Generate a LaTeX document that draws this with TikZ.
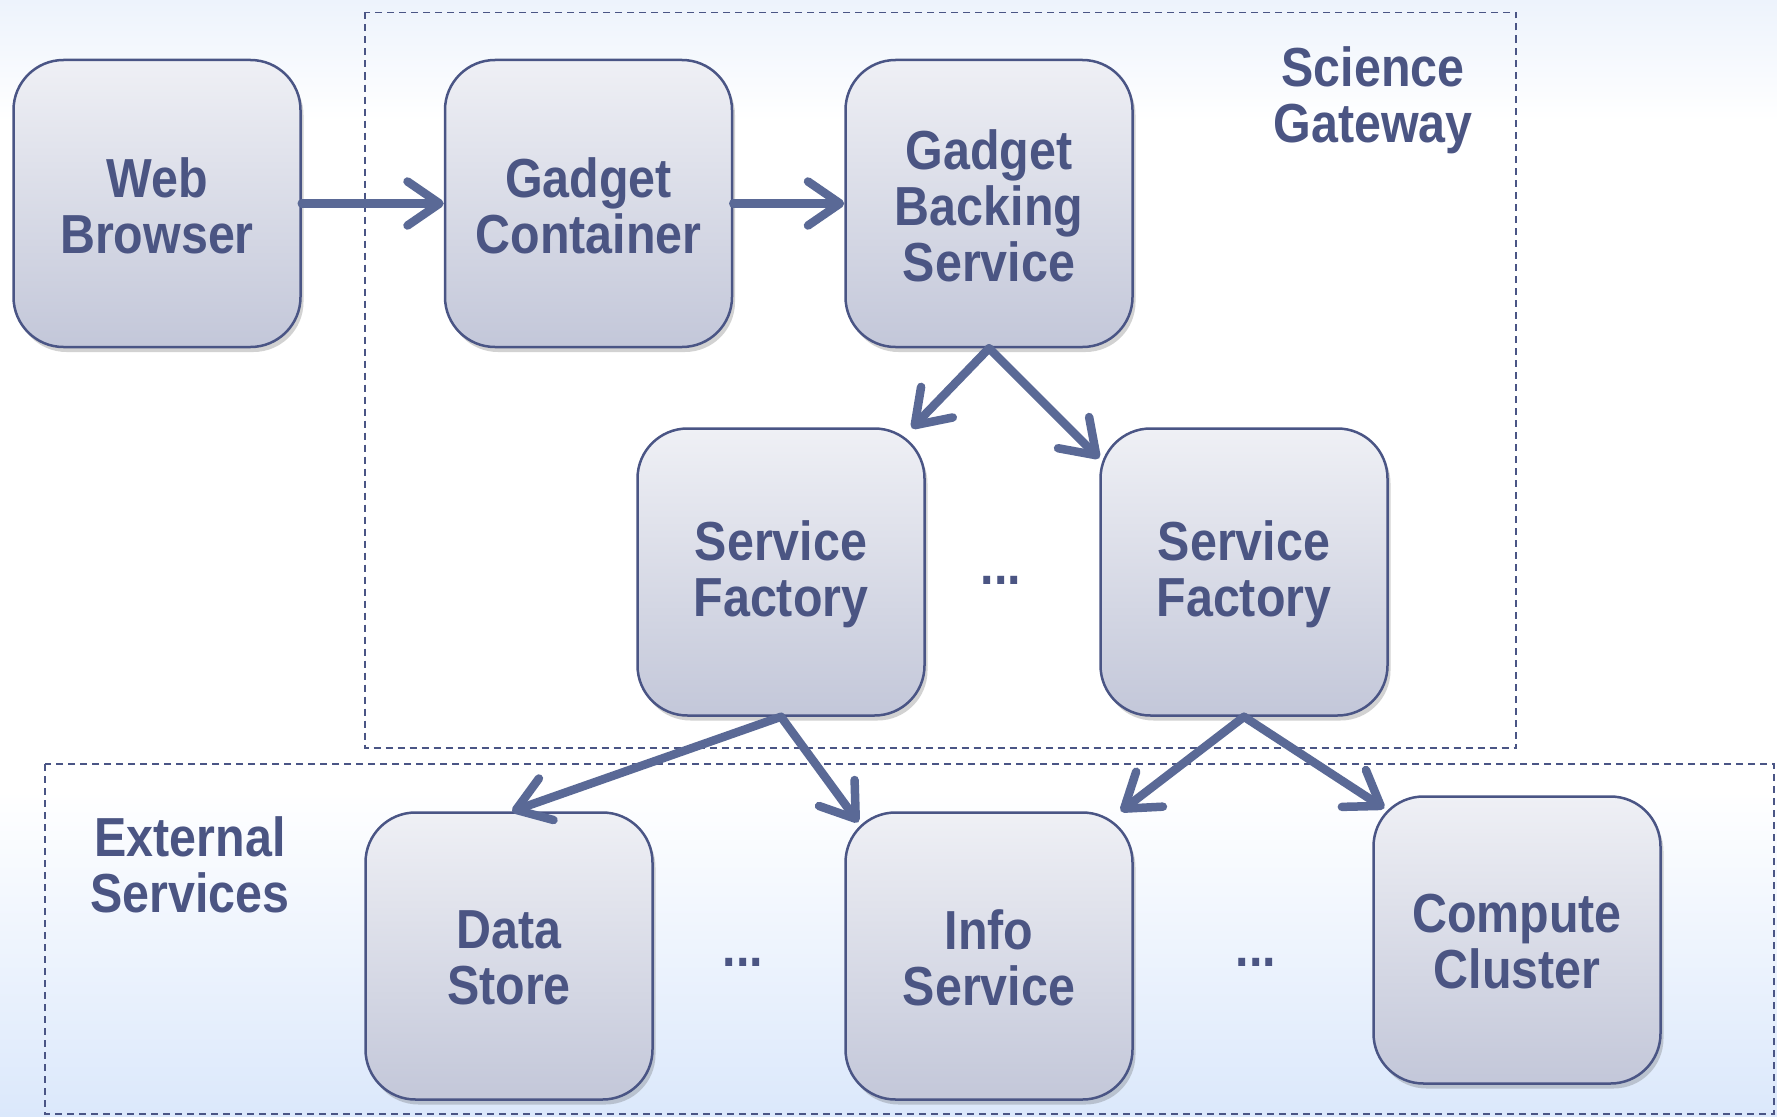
\documentclass[tikz,border=0pt]{standalone}
\usepackage{fontspec}
\newfontfamily\lblfont{Liberation Sans}[FakeStretch=0.88]
\usetikzlibrary{arrows.meta,shadows}
\definecolor{txt}{RGB}{75,85,131}
\definecolor{edge}{RGB}{74,85,133}
\definecolor{arr}{RGB}{90,105,150}
\definecolor{boxtop}{RGB}{239,240,245}
\definecolor{boxbot}{RGB}{195,199,217}
\definecolor{bgblue}{RGB}{219,232,251}
\definecolor{bgtop}{RGB}{237,243,252}
\tikzset{
  lbl/.style={font=\lblfont\bfseries\fontsize{55}{56}\selectfont, text=txt, align=center},
  inlbl/.style={lbl, yshift=-2pt},
  compbox/.style={draw=edge, line width=2.5pt, rounded corners=50pt,
    minimum width=287pt, minimum height=287pt, top color=boxtop, bottom color=boxbot,
    drop shadow={shadow xshift=3pt, shadow yshift=-5pt, opacity=0.25, fill=black!70}},
  grp/.style={draw=edge, line width=1.6pt, dash pattern=on 7pt off 5pt},
  conn/.style={draw=arr, line width=8.5pt, line cap=round,
    -{Straight Barb[length=32pt,width=44pt,round]}},
}
\begin{document}
\begin{tikzpicture}[x=1pt,y=-1pt]
\useasboundingbox (0,0) rectangle (1777,1116);
% background
\fill[white] (0,0) rectangle (1777,1116);
\shade[top color=bgtop, bottom color=white] (0,0) rectangle (1777,122);
\shade[top color=white, bottom color=bgblue] (0,790) rectangle (1777,1116);
% groups
\draw[grp] (365,12.5) rectangle (1516,748);
\draw[grp] (45,764) rectangle (1774,1114);
\node[lbl] (sglabel) at (1373,100) {Science\\Gateway};
\node[lbl] (eslabel) at (190,865) {External\\Services};
% boxes
\node[compbox, label={[inlbl]center:{Web\\Browser}}] (wb) at (157,203.5) {};
\node[compbox, label={[inlbl]center:{Gadget\\Container}}] (gc) at (588.5,203.5) {};
\node[compbox, label={[inlbl]center:{Gadget\\Backing\\Service}}] (gbs) at (989,203.5) {};
\node[compbox, label={[inlbl]center:{Service\\Factory}}] (sf1) at (781,572) {};
\node[compbox, label={[inlbl]center:{Service\\Factory}}] (sf2) at (1244,572) {};
\node[compbox, label={[inlbl]center:{Data\\Store}}] (ds) at (509,956) {};
\node[compbox, label={[inlbl]center:{Info\\Service}}] (info) at (989,956) {};
\node[compbox, label={[inlbl]center:{Compute\\Cluster}}] (cc) at (1517,940) {};
% dots
\node[lbl] (d1) at (1001,580) {...};
\node[lbl] (d2) at (743,962) {...};
\node[lbl] (d3) at (1256,962) {...};
% connectors
\draw[conn] (wb.east) -- (gc.west);
\draw[conn] (gc.east) -- (gbs.west);
\draw[conn] (gbs.south) -- ([xshift=-14pt,yshift=-1pt]sf1.north east);
\draw[conn] (gbs.south) -- ([yshift=-31pt]sf2.north west);
\draw[conn] (sf1.south) -- ([xshift=3pt]ds.north);
\draw[conn] (sf1.south) -- ([xshift=14pt,yshift=-11pt]info.north west);
\draw[conn] (sf2.south) -- ([xshift=-13pt]info.north east);
\draw[conn] (sf2.south) -- ([xshift=12pt,yshift=-13pt]cc.north west);
\end{tikzpicture}
\end{document}
